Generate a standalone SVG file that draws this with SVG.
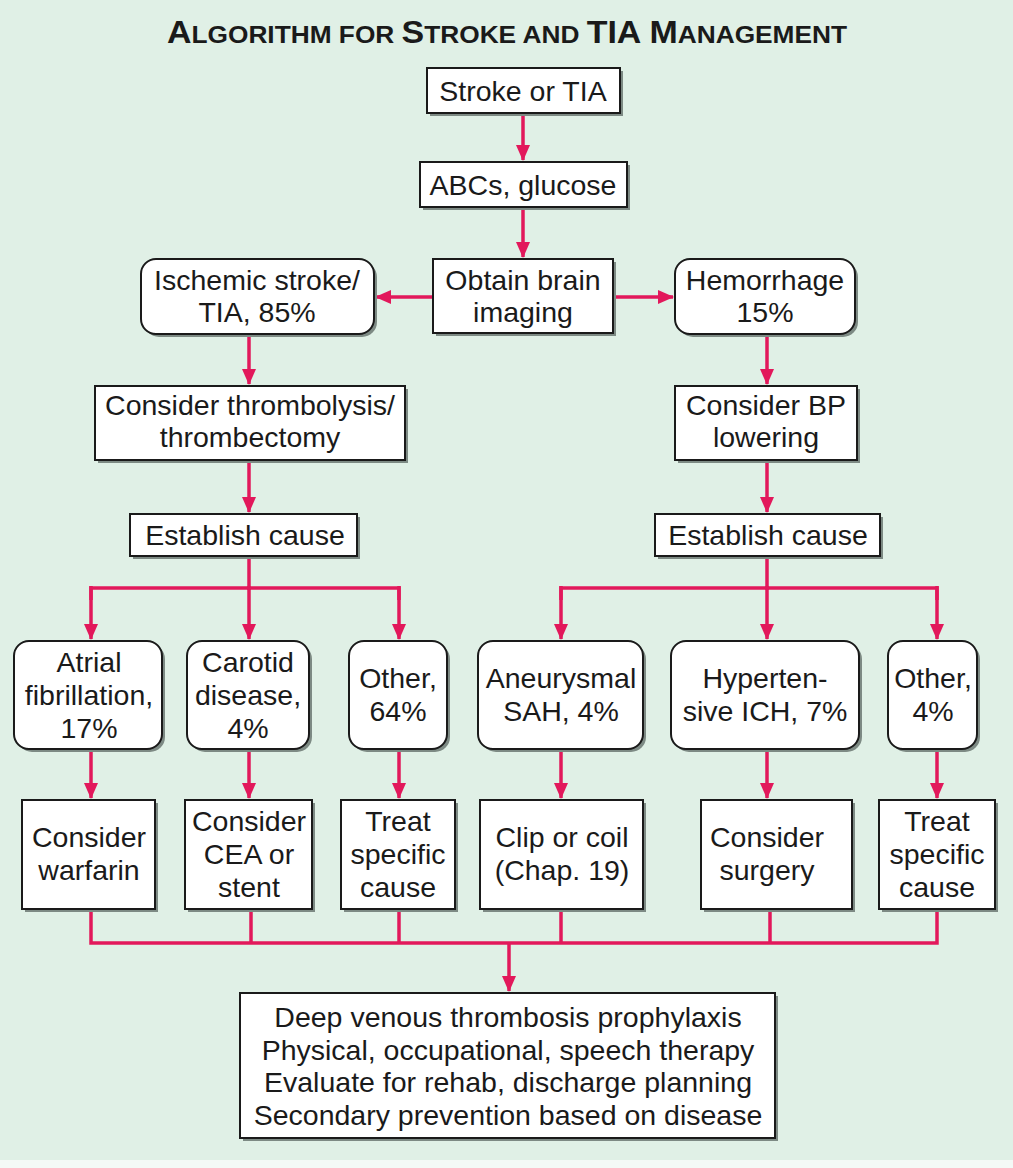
<svg xmlns="http://www.w3.org/2000/svg" width="1013" height="1168" viewBox="0 0 1013 1168">
<defs>
<marker id="ah" markerUnits="userSpaceOnUse" markerWidth="16" markerHeight="16" viewBox="0 0 16 16" refX="15" refY="8" orient="auto">
<path d="M0,1 L16,8 L0,15 Z" fill="#e2185b"/>
</marker>
</defs>
<style>
.bx{fill:#fff;stroke:#1a1a1a;stroke-width:2}
.sh{fill:#7d8a84}
.t{font-family:"Liberation Sans",Arial,sans-serif;font-size:28.5px;fill:#1a1a1a;text-anchor:middle;dominant-baseline:central}
.c{fill:none;stroke:#e2185b;stroke-width:3.5}
.a{marker-end:url(#ah)}
.ttl{font-family:"Liberation Sans",Arial,sans-serif;font-weight:bold;fill:#1a1a1a;text-anchor:middle}
</style>
<rect x="0" y="0" width="1013" height="1168" fill="#e0f0e6"/>
<rect x="0" y="1160" width="1013" height="8" fill="#f4f9f6"/>
<text class="ttl" x="507" y="43" textLength="680" lengthAdjust="spacingAndGlyphs"><tspan font-size="31">A</tspan><tspan font-size="24">LGORITHM FOR </tspan><tspan font-size="31">S</tspan><tspan font-size="24">TROKE AND </tspan><tspan font-size="31">TIA M</tspan><tspan font-size="24">ANAGEMENT</tspan></text>

<g id="connectors">
<line class="c a" x1="523" y1="113" x2="523" y2="160"/>
<line class="c a" x1="523" y1="207" x2="523" y2="257"/>
<line class="c a" x1="433" y1="297" x2="376" y2="297"/>
<line class="c a" x1="613" y1="297" x2="673" y2="297"/>
<line class="c a" x1="249" y1="334" x2="249" y2="384"/>
<line class="c a" x1="767" y1="334" x2="767" y2="384"/>
<line class="c a" x1="249" y1="460" x2="249" y2="512"/>
<line class="c a" x1="767" y1="460" x2="767" y2="512"/>
<polyline class="c" points="91,600 91,588 399,588 399,600"/>
<line class="c" x1="249" y1="556" x2="249" y2="590"/>
<line class="c a" x1="91" y1="586" x2="91" y2="639"/>
<line class="c a" x1="249" y1="586" x2="249" y2="639"/>
<line class="c a" x1="399" y1="586" x2="399" y2="639"/>
<polyline class="c" points="561,600 561,588 937,588 937,600"/>
<line class="c" x1="767" y1="556" x2="767" y2="590"/>
<line class="c a" x1="561" y1="586" x2="561" y2="639"/>
<line class="c a" x1="767" y1="586" x2="767" y2="639"/>
<line class="c a" x1="937" y1="586" x2="937" y2="639"/>
<line class="c a" x1="91" y1="749" x2="91" y2="798"/>
<line class="c a" x1="249" y1="749" x2="249" y2="798"/>
<line class="c a" x1="399" y1="749" x2="399" y2="798"/>
<line class="c a" x1="561" y1="749" x2="561" y2="798"/>
<line class="c a" x1="767" y1="749" x2="767" y2="798"/>
<line class="c a" x1="937" y1="749" x2="937" y2="798"/>
<polyline class="c" points="91,909 91,943 937,943 937,909"/>
<line class="c" x1="251" y1="909" x2="251" y2="943"/>
<line class="c" x1="399" y1="909" x2="399" y2="943"/>
<line class="c" x1="561" y1="909" x2="561" y2="943"/>
<line class="c" x1="770" y1="909" x2="770" y2="943"/>
<line class="c a" x1="509" y1="943" x2="509" y2="991"/>
</g>

<g id="n-stroke"><rect class="sh" x="430" y="71" width="193" height="45"/><rect class="bx" x="427" y="68" width="193" height="45"/><text class="t" x="523" y="91">Stroke or TIA</text></g>
<g id="n-abc"><rect class="sh" x="423" y="165" width="207" height="45"/><rect class="bx" x="420" y="162" width="207" height="45"/><text class="t" x="523" y="185">ABCs, glucose</text></g>
<g id="n-imaging"><rect class="sh" x="436" y="262" width="180" height="74"/><rect class="bx" x="433" y="259" width="180" height="74"/><text class="t" x="523" y="280">Obtain brain</text><text class="t" x="523" y="312">imaging</text></g>
<g id="n-ischemic"><rect class="sh" x="144" y="262" width="233" height="75" rx="15"/><rect class="bx" x="141" y="259" width="233" height="75" rx="15"/><text class="t" x="257" y="280">Ischemic stroke/</text><text class="t" x="257" y="312">TIA, 85%</text></g>
<g id="n-hemorrhage"><rect class="sh" x="678" y="262" width="180" height="75" rx="15"/><rect class="bx" x="675" y="259" width="180" height="75" rx="15"/><text class="t" x="765" y="280">Hemorrhage</text><text class="t" x="765" y="312">15%</text></g>
<g id="n-thromb"><rect class="sh" x="98" y="389" width="310" height="74"/><rect class="bx" x="95" y="386" width="310" height="74"/><text class="t" x="250" y="405">Consider thrombolysis/</text><text class="t" x="250" y="437">thrombectomy</text></g>
<g id="n-bp"><rect class="sh" x="678" y="389" width="182" height="74"/><rect class="bx" x="675" y="386" width="182" height="74"/><text class="t" x="766" y="405">Consider BP</text><text class="t" x="766" y="437">lowering</text></g>
<g id="n-cause-l"><rect class="sh" x="133" y="517" width="227" height="42"/><rect class="bx" x="130" y="514" width="227" height="42"/><text class="t" x="245" y="535">Establish cause</text></g>
<g id="n-cause-r"><rect class="sh" x="658" y="517" width="225" height="42"/><rect class="bx" x="655" y="514" width="225" height="42"/><text class="t" x="768" y="535">Establish cause</text></g>

<g id="n-af"><rect class="sh" x="17" y="644" width="148" height="108" rx="15"/><rect class="bx" x="14" y="641" width="148" height="108" rx="15"/><text class="t" x="89" y="662">Atrial</text><text class="t" x="89" y="695">fibrillation,</text><text class="t" x="89" y="728">17%</text></g>
<g id="n-carotid"><rect class="sh" x="190" y="644" width="122" height="108" rx="15"/><rect class="bx" x="187" y="641" width="122" height="108" rx="15"/><text class="t" x="248" y="662">Carotid</text><text class="t" x="248" y="695">disease,</text><text class="t" x="248" y="728">4%</text></g>
<g id="n-other64"><rect class="sh" x="352" y="644" width="98" height="108" rx="15"/><rect class="bx" x="349" y="641" width="98" height="108" rx="15"/><text class="t" x="398" y="678">Other,</text><text class="t" x="398" y="711">64%</text></g>
<g id="n-sah"><rect class="sh" x="481" y="644" width="165" height="108" rx="15"/><rect class="bx" x="478" y="641" width="165" height="108" rx="15"/><text class="t" x="561" y="678">Aneurysmal</text><text class="t" x="561" y="711">SAH, 4%</text></g>
<g id="n-ich"><rect class="sh" x="674" y="644" width="188" height="108" rx="15"/><rect class="bx" x="671" y="641" width="188" height="108" rx="15"/><text class="t" x="765" y="678">Hyperten-</text><text class="t" x="765" y="711">sive ICH, 7%</text></g>
<g id="n-other4"><rect class="sh" x="891" y="644" width="89" height="108" rx="15"/><rect class="bx" x="888" y="641" width="89" height="108" rx="15"/><text class="t" x="933" y="678">Other,</text><text class="t" x="933" y="711">4%</text></g>

<g id="n-warfarin"><rect class="sh" x="25" y="803" width="133" height="109"/><rect class="bx" x="22" y="800" width="133" height="109"/><text class="t" x="89" y="837">Consider</text><text class="t" x="89" y="870">warfarin</text></g>
<g id="n-cea"><rect class="sh" x="188" y="803" width="127" height="109"/><rect class="bx" x="185" y="800" width="127" height="109"/><text class="t" x="249" y="821">Consider</text><text class="t" x="249" y="854">CEA or</text><text class="t" x="249" y="887">stent</text></g>
<g id="n-treat-l"><rect class="sh" x="344" y="803" width="114" height="109"/><rect class="bx" x="341" y="800" width="114" height="109"/><text class="t" x="398" y="821">Treat</text><text class="t" x="398" y="854">specific</text><text class="t" x="398" y="887">cause</text></g>
<g id="n-clip"><rect class="sh" x="483" y="803" width="163" height="109"/><rect class="bx" x="480" y="800" width="163" height="109"/><text class="t" x="562" y="837">Clip or coil</text><text class="t" x="562" y="870">(Chap. 19)</text></g>
<g id="n-surgery"><rect class="sh" x="704" y="803" width="151" height="109"/><rect class="bx" x="701" y="800" width="151" height="109"/><text class="t" x="767" y="837">Consider</text><text class="t" x="767" y="870">surgery</text></g>
<g id="n-treat-r"><rect class="sh" x="882" y="803" width="116" height="109"/><rect class="bx" x="879" y="800" width="116" height="109"/><text class="t" x="937" y="821">Treat</text><text class="t" x="937" y="854">specific</text><text class="t" x="937" y="887">cause</text></g>

<g id="n-final"><rect class="sh" x="243" y="996" width="535" height="145"/><rect class="bx" x="240" y="993" width="535" height="145"/>
<text class="t" x="508" y="1017">Deep venous thrombosis prophylaxis</text>
<text class="t" x="508" y="1050">Physical, occupational, speech therapy</text>
<text class="t" x="508" y="1082">Evaluate for rehab, discharge planning</text>
<text class="t" x="508" y="1115">Secondary prevention based on disease</text></g>
</svg>
